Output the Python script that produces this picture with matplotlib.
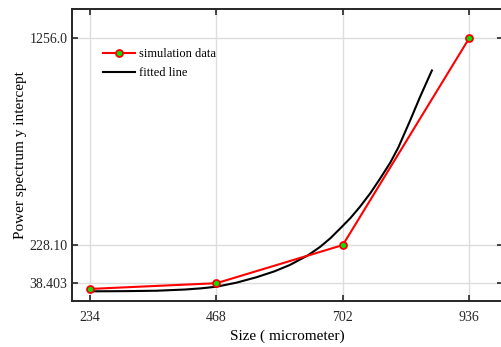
import matplotlib
matplotlib.use('Agg')
import matplotlib.pyplot as plt

plt.rcParams['font.family'] = ['Liberation Serif', 'DejaVu Serif']

# simulation data
size = [234, 468, 702, 936]
intercept = [10, 38.403, 228.10, 1256.0]

# fitted line
fit_x = [234, 300, 357, 410, 440, 468, 505, 542, 575, 604, 638, 660, 679, 697, 716,
         734, 753, 771, 790, 805, 827, 845, 867]
fit_y = [-2, -1, 1, 7, 13, 21, 41, 68, 97, 129, 178, 219, 262, 310, 362,
         419, 486, 558, 638, 714, 849, 964, 1096]

xticks = [234, 468, 702, 936]
yticks = [38.403, 228.10, 1256.0]
yticklabels = ['38.403', '228.10', '1256.0']

fig = plt.figure(figsize=(5.01, 3.47), dpi=100)
ax = fig.add_axes([0.1443, 0.1326, 0.86, 0.8406])

ax.plot(size, intercept, color='red', lw=1.5, marker='o', ms=5,
        mfc='#00e600', mec='red', mew=1.3, label='simulation data', zorder=3)
ax.plot(fit_x, fit_y, color='black', lw=1.5, label='fitted line', zorder=2)

ax.set_xlim(201, 999)
ax.set_ylim(-50, 1400)
ax.set_xticks(xticks)
ax.set_yticks(yticks)
ax.set_yticklabels(yticklabels)
ax.grid(True, color='#dddddd', lw=1)
ax.set_axisbelow(True)

ax.tick_params(direction='in', length=4, width=1.2, colors='#262626',
               labelsize=10, top=True, right=True)
ax.tick_params(axis='x', pad=7)
for s in ax.spines.values():
    s.set_color('#262626')
    s.set_linewidth(1.4)

ax.set_xlabel('Size ( micrometer)', fontsize=11, labelpad=4)
ax.set_ylabel('Power spectrum y intercept', fontsize=11, labelpad=2)

ax.legend(loc='upper left', bbox_to_anchor=(0.045, 0.905), frameon=False,
          fontsize=9, handlelength=2.6, handletextpad=0.3, labelspacing=0.55)

fig.savefig('out.png', dpi=100)
